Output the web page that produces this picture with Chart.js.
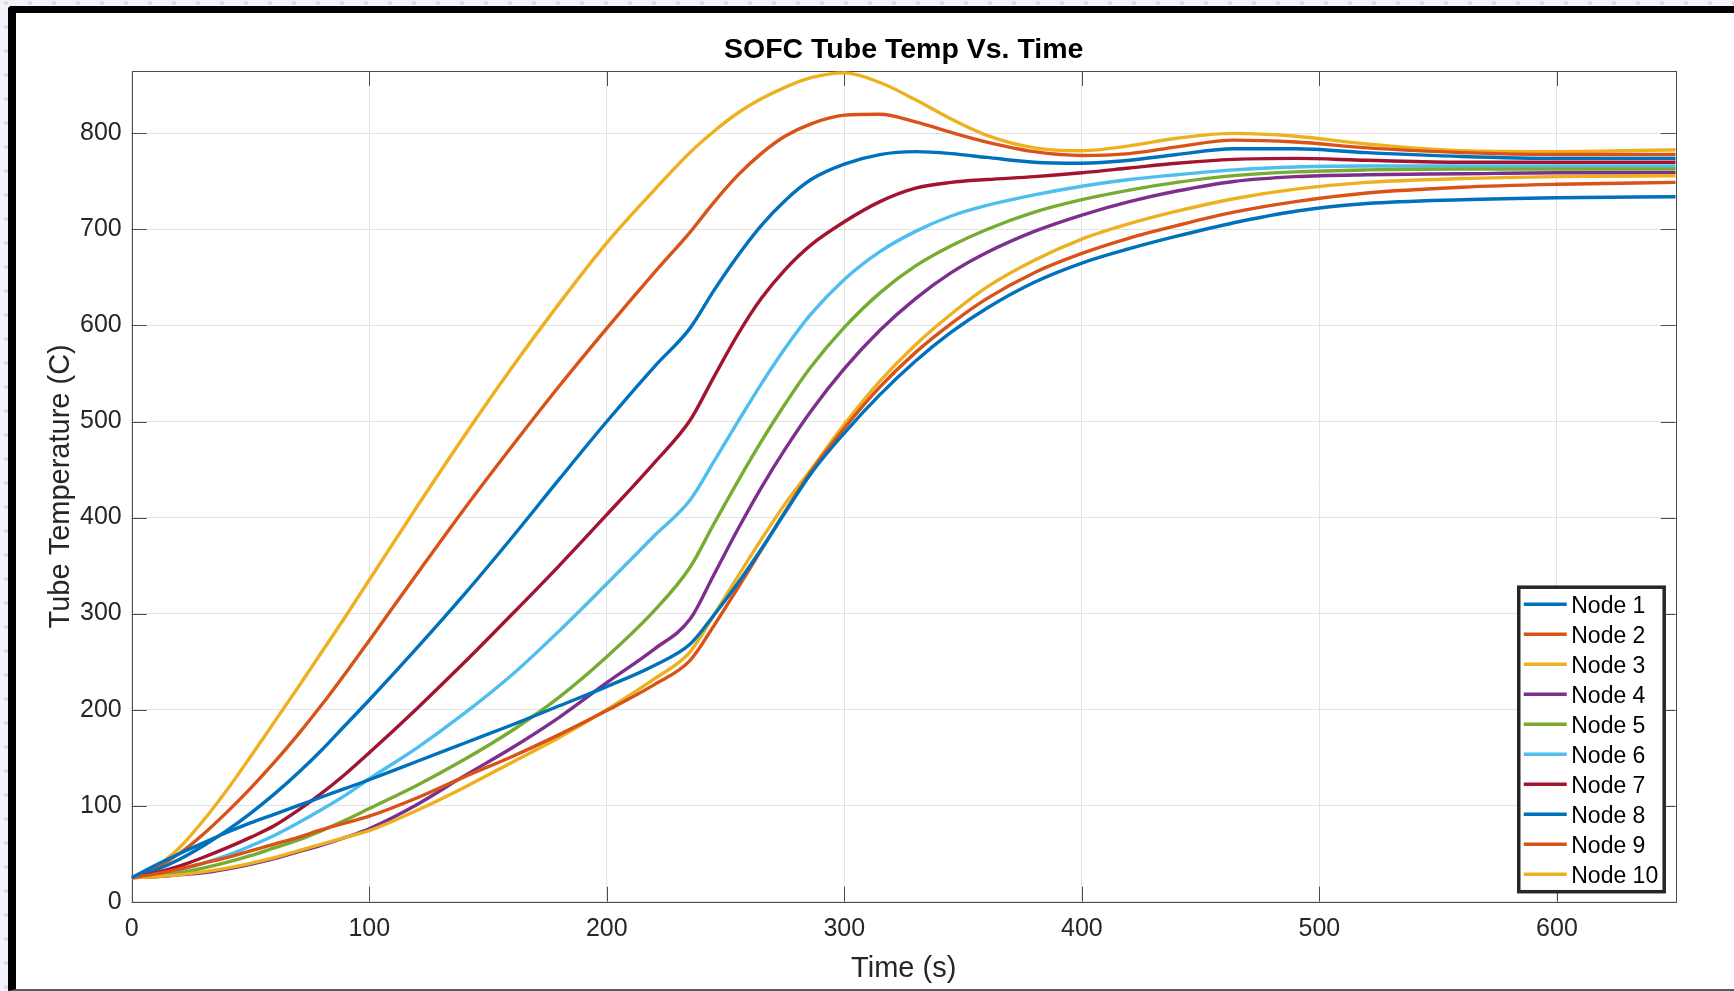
<!DOCTYPE html>
<html>
<head>
<meta charset="utf-8">
<script src="https://cdn.jsdelivr.net/npm/chart.js@4.4.1/dist/chart.umd.min.js"></script>
<style>
  html, body { margin: 0; padding: 0; width: 1734px; height: 991px; overflow: hidden; }
  body {
    background-color: #f4f2f8;
    background-image: radial-gradient(circle, #dcd7e8 1.6px, transparent 2.2px);
    background-size: 24px 24px;
    background-position: -6px -9px;
    position: relative;
  }
  #frame {
    position: absolute; left: 8px; top: 6px; width: 1726px; height: 985px;
    box-sizing: border-box;
    border-left: 8px solid #000; border-top: 7px solid #000;
    border-bottom: 2px solid #5a5a5a;
    border-top-left-radius: 4px;
    background: #fff;
  }
  #c { position: absolute; left: 0; top: 0; }
</style>
</head>
<body>
<div id="frame"></div>
<canvas id="c" width="1734" height="991"></canvas>
<script>
// ---- data ----
const timeS = [0, 10, 20, 30, 40, 50, 60, 70, 80, 90, 100, 120, 140, 160, 180, 200, 220, 235,
  245, 255, 265, 275, 286, 300, 315, 330, 345, 360, 380, 400, 420, 440, 464, 490, 520, 560, 600, 650];

const node1 = [25, 38, 50, 61, 72, 82, 91, 100, 109, 118, 127, 146, 165, 184, 204, 224, 246, 268,
  298, 331, 367, 405, 446, 488, 528, 563, 593, 618, 645, 665, 680, 693, 707, 719, 727, 731, 733, 734];
const node2 = [25, 29, 34, 40, 46, 53, 60, 67, 75, 82, 89, 108, 130, 151, 174, 199, 226, 251,
  287, 326, 366, 406, 448, 493, 536, 572, 602, 628, 655, 675, 691, 704, 718, 729, 738, 744, 747, 749];
const node3 = [25, 26, 28, 31, 35, 40, 46, 53, 60, 67, 74, 95, 119, 145, 171, 200, 232, 260,
  298, 338, 377, 414, 450, 497, 542, 580, 612, 640, 668, 690, 706, 719, 732, 742, 749, 753, 755, 756];
const node4 = [25, 26, 28, 30, 34, 39, 45, 52, 59, 67, 76, 101, 131, 160, 192, 228, 263, 294,
  340, 387, 431, 471, 511, 555, 595, 628, 655, 676, 698, 715, 729, 740, 750, 755, 757, 758, 759, 759];
const node5 = [25, 27, 30, 35, 41, 48, 56, 64, 74, 85, 97, 121, 148, 178, 213, 255, 303, 348,
  393, 437, 479, 518, 557, 598, 634, 662, 683, 700, 718, 731, 741, 749, 756, 760, 762, 763, 763, 763];
const node6 = [25, 28, 33, 40, 48, 58, 69, 82, 96, 111, 128, 160, 196, 236, 282, 331, 381, 418,
  458, 499, 539, 576, 612, 648, 677, 698, 714, 725, 736, 745, 752, 757, 762, 765, 766, 766, 766, 766];
const node7 = [25, 30, 37, 46, 56, 67, 79, 95, 113, 133, 155, 201, 249, 299, 350, 403, 457, 501,
  546, 590, 628, 658, 684, 708, 729, 743, 749, 752, 755, 759, 764, 769, 773, 774, 772, 770, 770, 770];
const node8 = [25, 33, 44, 58, 74, 92, 112, 134, 158, 184, 210, 264, 320, 379, 440, 500, 557, 597,
  636, 672, 704, 730, 752, 768, 778, 781, 779, 775, 770, 769, 772, 778, 784, 784, 780, 776, 774, 774];
const node9 = [25, 35, 50, 70, 93, 118, 145, 174, 205, 238, 272, 341, 409, 474, 537, 597, 655, 697,
  728, 756, 779, 797, 810, 819, 820, 812, 801, 791, 781, 777, 779, 786, 793, 791, 785, 780, 778, 778];
const node10 = [25, 36, 56, 84, 116, 151, 187, 223, 260, 297, 335, 411, 485, 556, 623, 686, 741, 780,
  802, 821, 836, 848, 858, 863, 853, 835, 815, 798, 785, 782, 787, 795, 800, 797, 789, 782, 781, 783];

const seriesNames = ['Node 1', 'Node 2', 'Node 3', 'Node 4', 'Node 5', 'Node 6', 'Node 7', 'Node 8', 'Node 9', 'Node 10'];
const seriesValues = [node1, node2, node3, node4, node5, node6, node7, node8, node9, node10];
const seriesColors = ['#0072BD', '#D95319', '#EDB120', '#7E2F8E', '#77AC30', '#4DBEEE', '#A2142F', '#0072BD', '#D95319', '#EDB120'];

const xTickStep = 100, xMax = 650;
const yTickStep = 100, yMax = 865;

const FONT = '"Liberation Sans", Arial, Helvetica, sans-serif';
const TEXT = '#262626';
const AXIS = '#4d4d4d';
const GRID = '#e3e3e3';

// ---- plugins ----
const boxAndTicks = {
  id: 'boxAndTicks',
  beforeDatasetsDraw(chart) {
    const { ctx, chartArea: a, scales: { x, y } } = chart;
    const L = 15;
    ctx.save();
    ctx.strokeStyle = AXIS;
    ctx.lineWidth = 1;
    ctx.beginPath();
    x.ticks.forEach(t => {
      const px = Math.round(x.getPixelForValue(t.value)) + 0.5;
      ctx.moveTo(px, a.bottom); ctx.lineTo(px, a.bottom - L);
      ctx.moveTo(px, a.top); ctx.lineTo(px, a.top + L);
    });
    y.ticks.forEach(t => {
      const py = Math.round(y.getPixelForValue(t.value)) + 0.5;
      ctx.moveTo(a.left, py); ctx.lineTo(a.left + L, py);
      ctx.moveTo(a.right, py); ctx.lineTo(a.right - L, py);
    });
    ctx.stroke();
    ctx.strokeRect(Math.round(a.left) + 0.5, Math.round(a.top) + 0.5,
      Math.round(a.right) - Math.round(a.left), Math.round(a.bottom) - Math.round(a.top));
    ctx.restore();
  }
};

const boxLegend = {
  id: 'boxLegend',
  afterDatasetsDraw(chart) {
    const { ctx, chartArea: a } = chart;
    const ds = chart.data.datasets;
    ctx.save();
    ctx.font = '23px ' + FONT;
    let maxW = 0;
    ds.forEach(d => { maxW = Math.max(maxW, ctx.measureText(d.label).width); });
    const rowH = 30, padTop = 17, padBot = 17.5, lineLen = 43, padL = 5, gap = 4.5, padR = 6;
    const w = padL + lineLen + gap + maxW + padR;
    const h = padTop + rowH * (ds.length - 1) + padBot;
    const right = a.right - 11.5, bottom = a.bottom - 10;
    const left = right - w, top = bottom - h;
    ctx.fillStyle = '#fff';
    ctx.fillRect(left, top, w, h);
    ctx.strokeStyle = '#262626';
    ctx.lineWidth = 3.5;
    ctx.strokeRect(left, top, w, h);
    ds.forEach((d, i) => {
      const cy = top + padTop + i * rowH;
      ctx.strokeStyle = d.borderColor;
      ctx.lineWidth = 3.4;
      ctx.beginPath();
      ctx.moveTo(left + padL, cy); ctx.lineTo(left + padL + lineLen, cy);
      ctx.stroke();
      ctx.fillStyle = '#000';
      ctx.textBaseline = 'middle';
      ctx.textAlign = 'left';
      ctx.fillText(d.label, left + padL + lineLen + gap, cy + 2);
    });
    ctx.restore();
  }
};

const datasets = seriesNames.map((name, i) => ({
  label: name,
  data: timeS.map((t, k) => ({ x: t, y: seriesValues[i][k] })),
  borderColor: seriesColors[i],
  backgroundColor: seriesColors[i],
  borderWidth: 3.4,
  pointRadius: 0,
  fill: false,
  cubicInterpolationMode: 'monotone'
}));

new Chart(document.getElementById('c'), {
  type: 'line',
  data: { datasets },
  plugins: [boxAndTicks, boxLegend],
  options: {
    responsive: false,
    animation: false,
    devicePixelRatio: 1,
    layout: { padding: { top: 33, right: 58.3, bottom: 0, left: 0 } },
    plugins: {
      legend: { display: false },
      tooltip: { enabled: false },
      title: {
        display: true,
        text: 'SOFC Tube Temp Vs. Time',
        fullSize: false,
        color: '#000',
        font: { family: FONT, size: 28.5, weight: 'bold', lineHeight: 1.2 },
        padding: { top: 0, bottom: 3.8 }
      }
    },
    scales: {
      x: {
        type: 'linear',
        min: 0, max: xMax,
        afterBuildTicks: s => { s.ticks = s.ticks.filter(t => t.value % xTickStep === 0); },
        afterFit: s => { s.height = 89.3; },
        ticks: { stepSize: xTickStep, includeBounds: false, color: TEXT, padding: 12, maxRotation: 0,
                 font: { family: FONT, size: 25 } },
        grid: { color: GRID, lineWidth: 1, drawTicks: false },
        border: { display: false },
        title: { display: true, text: 'Time (s)', color: TEXT,
                 font: { family: FONT, size: 29, lineHeight: 1.2 }, padding: { top: 0, bottom: 5 } }
      },
      y: {
        type: 'linear',
        min: 0, max: yMax,
        afterBuildTicks: s => { s.ticks = s.ticks.filter(t => t.value % yTickStep === 0); },
        afterFit: s => { s.width = 131.7; },
        ticks: { stepSize: yTickStep, includeBounds: false, color: TEXT, padding: 10,
                 font: { family: FONT, size: 25 } },
        grid: { color: GRID, lineWidth: 1, drawTicks: false },
        border: { display: false },
        title: { display: true, text: 'Tube Temperature (C)', color: TEXT,
                 font: { family: FONT, size: 29, lineHeight: 1.2 }, padding: { top: 43.5, bottom: 0 } }
      }
    }
  }
});
</script>
</body>
</html>
